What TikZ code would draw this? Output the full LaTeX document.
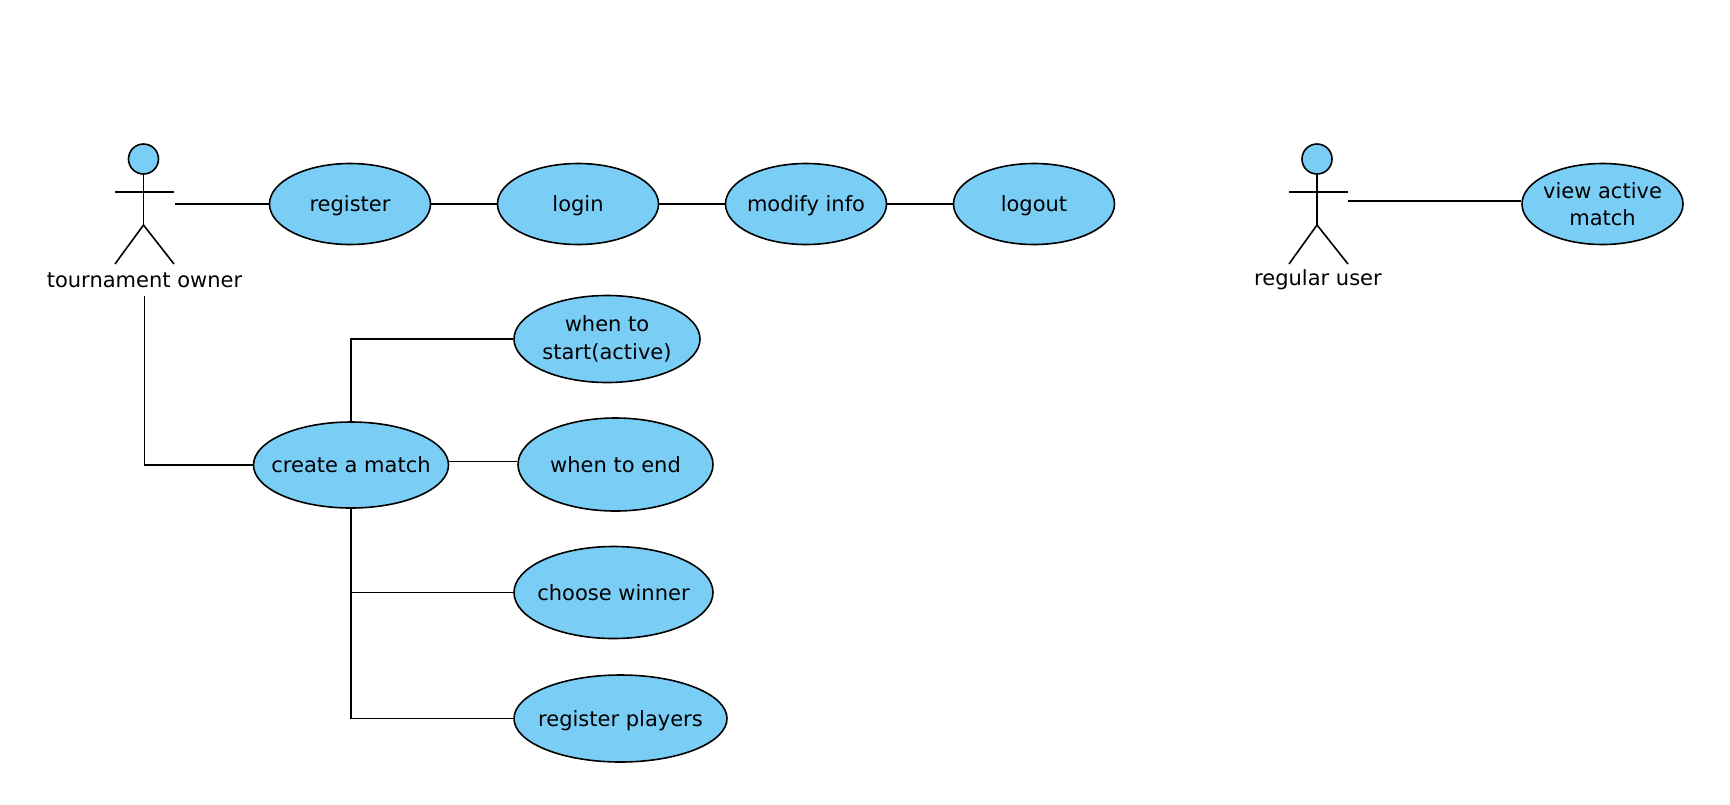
\documentclass[tikz,border=0pt]{standalone}
\usepackage{fontspec}
\usetikzlibrary{shapes.geometric}
\setmainfont{DejaVu Sans}
\definecolor{usecase}{HTML}{7ACEF6}

\begin{document}
\begin{tikzpicture}[x=1pt, y=-1pt, node distance={228pt}, line width=1.6pt,
  main/.style = {draw, ellipse, fill=usecase, inner xsep=-40pt, inner ysep=0pt, font=\fontsize{21}{27.5}\selectfont, align=center},
  small/.style = {main, minimum width=161pt, minimum height=81pt},
  flat/.style = {text depth=0pt},
  head/.style = {draw, circle, fill=usecase, inner sep=0pt, minimum size=30pt},
  actorname/.style = {font=\fontsize{21}{27.5}\selectfont}]
\useasboundingbox (0,0) rectangle (1730,804);

% left actor
\node[head] (ownerhead) at (143.5,159) {};
\coordinate (ownerhip) at (143.5,225);
\coordinate (ownerarml) at (115,192);
\coordinate (ownerarmr) at (174,192);
\coordinate (ownerlegl) at (115,264);
\coordinate (ownerlegr) at (174,264);
\node[actorname] (owner) at (144.5,280) {tournament owner};
\coordinate (ownerside) at (174.5,204);
\coordinate (ownerfoot) at (144.5,296);

% right actor
\node[head] (userhead) at (1317,159) {};
\coordinate (userhip) at (1317,225);
\coordinate (userarml) at (1289,192);
\coordinate (userarmr) at (1348,192);
\coordinate (userlegl) at (1289,264);
\coordinate (userlegr) at (1348,264);
\node[actorname] (user) at (1318,280) {regular user};
\coordinate (userside) at (1348,201);

\node[small, flat] (register) at (350,204) {register};
\node[small, flat] (login) [right of=register]{login};
\node[small, flat] (modify) [right of=login]{modify info};
\node[small, flat] (logout) [right of=modify]{logout};
\node[small] (view) at (1602.5,204) {view active\\match};

\node[main, minimum width=195pt, minimum height=86pt] (create) at (351,465) {create a match};
\node[main, minimum width=186pt, minimum height=87pt] (start) at (607,339) {when to\\start(active)};
\node[main, minimum width=195pt, minimum height=93pt] (end) at (615.5,464.5) {when to end};
\node[main, minimum width=199pt, minimum height=92pt] (winner) at (613.5,592.5) {choose winner};
\node[main, flat, minimum width=213pt, minimum height=87pt] (players) at (620.5,718.5) {register players};

\draw (ownerhead)--(ownerhip); \draw (ownerarml)--(ownerarmr);
\draw (ownerlegl)--(ownerhip)--(ownerlegr);
\draw (userhead)--(userhip); \draw (userarml)--(userarmr);
\draw (userlegl)--(userhip)--(userlegr);

\draw (ownerside)--(register);
\draw (register)--(login);
\draw (login)--(modify);
\draw (modify)--(logout);
\draw (view.178)--(view.178-|userside);

\draw (ownerfoot)|-(create);
\draw (create)|-(start);
\draw (create.2)--(create.2-|end.west);
\draw (create)|-(winner);
\draw (create)|-(players);

\end{tikzpicture}
\end{document}
